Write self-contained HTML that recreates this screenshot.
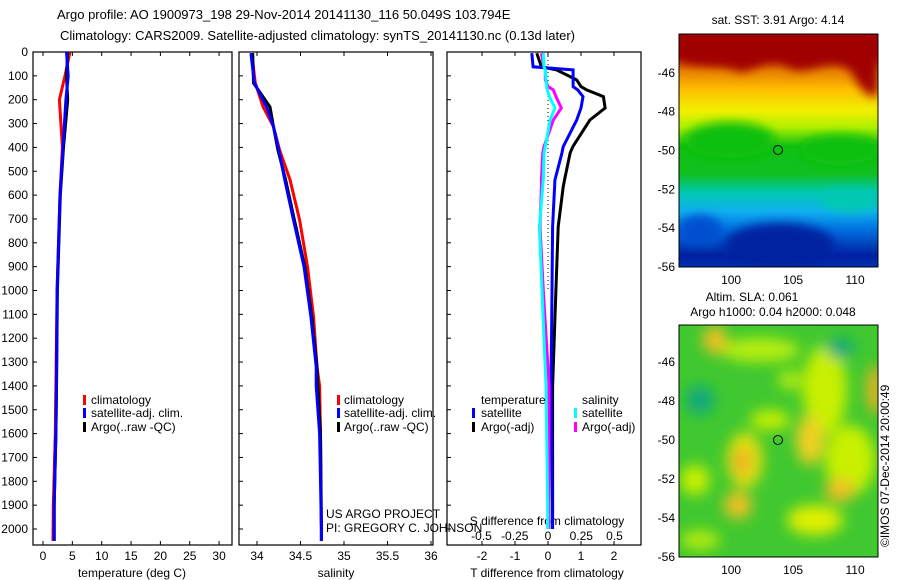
<!DOCTYPE html>
<html><head><meta charset="utf-8">
<style>
body{margin:0;background:#fff;}
svg{display:block;font-family:"Liberation Sans",sans-serif;}
text{font-size:12px;fill:#000;}
</style></head>
<body>
<svg id="c" width="900" height="580" viewBox="0 0 900 580">
<defs>
<linearGradient id="sst" x1="0" y1="0" x2="0" y2="1">
<stop offset="0" stop-color="#a00000"/><stop offset="0.09" stop-color="#a00000"/>
<stop offset="0.16" stop-color="#e88000"/><stop offset="0.24" stop-color="#ffc000"/>
<stop offset="0.33" stop-color="#f0f000"/><stop offset="0.40" stop-color="#b0f000"/>
<stop offset="0.48" stop-color="#10c010"/><stop offset="0.60" stop-color="#10c020"/>
<stop offset="0.68" stop-color="#00c8b0"/><stop offset="0.76" stop-color="#10b0f0"/>
<stop offset="0.84" stop-color="#0070e0"/><stop offset="0.95" stop-color="#0020a0"/>
<stop offset="1" stop-color="#0030b0"/></linearGradient>
<filter id="bl" x="-100%" y="-100%" width="300%" height="300%"><feGaussianBlur stdDeviation="5"/></filter>
<filter id="bl2" x="-100%" y="-100%" width="300%" height="300%"><feGaussianBlur stdDeviation="7"/></filter>
<clipPath id="m1c"><rect x="679" y="34" width="199" height="233"/></clipPath>
<clipPath id="m2c"><rect x="679" y="325" width="199" height="232"/></clipPath>
</defs>
<g id="titles">
<text x="57" y="19" style="font-size:13px">Argo profile: AO 1900973_198 29-Nov-2014 20141130_116 50.049S 103.794E</text>
<text x="60" y="40" style="font-size:13px">Climatology: CARS2009. Satellite-adjusted climatology: synTS_20141130.nc (0.13d later)</text>
</g>
<g id="axes"></g>
<g id="series"></g>
<g id="legends">
<rect x="83" y="395" width="3" height="10" fill="#f00"/>
<text x="91" y="404">climatology</text>
<rect x="83" y="408" width="3" height="10" fill="#00f"/>
<text x="91" y="417">satellite-adj. clim.</text>
<rect x="83" y="422" width="3" height="10" fill="#000"/>
<text x="91" y="431">Argo(..raw -QC)</text>
<rect x="337" y="395" width="3" height="10" fill="#f00"/>
<text x="344" y="404">climatology</text>
<rect x="337" y="408" width="3" height="10" fill="#00f"/>
<text x="344" y="417">satellite-adj. clim.</text>
<rect x="337" y="422" width="3" height="10" fill="#000"/>
<text x="344" y="431">Argo(..raw -QC)</text>
<text x="481" y="404">temperature</text>
<text x="582" y="404">salinity</text>
<rect x="472" y="408" width="3" height="10" fill="#00f"/>
<text x="481" y="417">satellite</text>
<rect x="472" y="422" width="3" height="10" fill="#000"/>
<text x="481" y="431">Argo(-adj)</text>
<rect x="574" y="408" width="3" height="10" fill="#0ff"/>
<text x="582" y="417">satellite</text>
<rect x="574" y="422" width="3" height="10" fill="#f0f"/>
<text x="582" y="431">Argo(-adj)</text>
<text x="326" y="518">US ARGO PROJECT</text>
<text x="326" y="532">PI: GREGORY C. JOHNSON</text>
</g>
<g id="map1">
<text x="778" y="24" text-anchor="middle">sat. SST: 3.91  Argo: 4.14</text>
<g clip-path="url(#m1c)">
<rect x="679" y="34" width="199" height="233" fill="url(#sst)"/>
<path d="M679,58 C700,70 720,60 740,72 C760,70 770,50 790,68 C810,78 830,50 850,70 C860,90 870,100 878,95 L878,34 L679,34Z" fill="#a00000" filter="url(#bl)"/>
<ellipse cx="730" cy="140" rx="45" ry="18" fill="#10c010" filter="url(#bl)"/>
<ellipse cx="840" cy="150" rx="40" ry="15" fill="#10c010" filter="url(#bl)"/>
<ellipse cx="780" cy="245" rx="55" ry="22" fill="#0020a0" filter="url(#bl)"/>
<ellipse cx="850" cy="200" rx="30" ry="12" fill="#00c8b0" filter="url(#bl)"/>
<ellipse cx="700" cy="230" rx="22" ry="15" fill="#0050d0" filter="url(#bl)"/>
</g>
<rect x="679" y="34" width="199" height="233" fill="none" stroke="#000" stroke-width="1"/>
<circle cx="778" cy="150" r="4.5" fill="none" stroke="#000"/>
</g>
<g id="map2">
<text x="752" y="301" text-anchor="middle">Altim. SLA: 0.061</text>
<text x="773" y="316" text-anchor="middle">Argo h1000: 0.04 h2000: 0.048</text>
<g clip-path="url(#m2c)">
<rect x="679" y="325" width="199" height="232" fill="#40c830"/>
<g filter="url(#bl2)">
<ellipse cx="760" cy="350" rx="40" ry="12" fill="#b8ee10"/>
<ellipse cx="715" cy="340" rx="12" ry="14" fill="#f0c020"/>
<ellipse cx="825" cy="390" rx="22" ry="45" fill="#c8f000"/>
<ellipse cx="850" cy="460" rx="25" ry="35" fill="#c8f000"/>
<ellipse cx="810" cy="440" rx="14" ry="25" fill="#f0d020"/>
<ellipse cx="745" cy="460" rx="18" ry="28" fill="#e0e010"/>
<ellipse cx="742" cy="462" rx="9" ry="14" fill="#f0b020"/>
<ellipse cx="875" cy="390" rx="8" ry="25" fill="#f0b020"/>
<ellipse cx="738" cy="505" rx="14" ry="14" fill="#f0c020"/>
<ellipse cx="815" cy="520" rx="28" ry="15" fill="#e0f000"/>
<ellipse cx="840" cy="490" rx="15" ry="12" fill="#f0c020"/>
<ellipse cx="700" cy="400" rx="14" ry="14" fill="#10a880"/>
<ellipse cx="840" cy="348" rx="14" ry="10" fill="#10a880"/>
<ellipse cx="770" cy="420" rx="20" ry="10" fill="#c8f000"/>
<ellipse cx="695" cy="480" rx="15" ry="15" fill="#c8f000"/>
<ellipse cx="700" cy="540" rx="20" ry="10" fill="#b0ea10"/>
<ellipse cx="790" cy="380" rx="12" ry="10" fill="#b0ea10"/>
</g></g>
<rect x="679" y="325" width="199" height="232" fill="none" stroke="#000" stroke-width="1"/>
<circle cx="778" cy="440" r="4.5" fill="none" stroke="#000"/>
<text transform="translate(889,547) rotate(-90)" style="font-size:12px">©IMOS 07-Dec-2014 20:00:49</text>
</g>
</svg>
<script>
// ---- data ----
const tDepth = [0,100,200,400,600,1000,1400,1600,1900,2050];
const tClim  = [4.6,3.75,2.8,3.3,2.9,2.4,2.2,2.1,1.75,1.7];
const tSat   = [4.0,4.3,3.9,3.4,2.9,2.4,2.3,2.2,1.9,1.9];
const tArgo  = [4.2,4.0,4.2,3.5,2.95,2.45,2.3,2.2,1.9,1.9];
const sDepth = [5,130,230,313,411,537,704,900,1110,1320,1400,1600,2000,2050];
const sClim  = [33.94,33.98,34.07,34.19,34.26,34.38,34.49,34.58,34.65,34.69,34.72,34.73,34.74,34.74];
const sSat   = [33.93,33.97,34.11,34.19,34.25,34.32,34.42,34.54,34.62,34.68,34.68,34.72,34.74,34.74];
const sArgo  = [33.95,33.96,34.15,34.19,34.24,34.33,34.43,34.55,34.63,34.69,34.70,34.73,34.74,34.74];
const dDepth = [5,62,75,117,145,159,187,235,285,397,424,537,565,732,1000,1400,1900,2000];
const dTSat  = [-0.49,-0.45,0.76,0.76,0.76,0.9,1.06,1.0,0.87,0.46,0.42,0.21,0.2,0.14,0.12,0.09,0.13,0.13];
const dTArgo = [-0.34,-0.2,0.26,0.87,1.0,1.17,1.68,1.73,1.27,0.75,0.67,0.5,0.46,0.31,0.24,0.14,0.14,0.14];
const dSSat  = [-0.035,-0.03,-0.02,-0.015,-0.01,-0.005,0.01,0.053,0.015,-0.02,-0.03,-0.035,-0.04,-0.065,-0.045,-0.015,-0.002,-0.002];
const dSArgo = [-0.05,-0.03,-0.02,-0.02,0.0,0.04,0.06,0.10,0.04,-0.03,-0.04,-0.05,-0.05,-0.06,-0.035,0.008,0.005,0.005];
const depthTicks = [0,100,200,300,400,500,600,700,800,900,1000,1100,1200,1300,1400,1500,1600,1700,1800,1900,2000];
const tTicks = [0,5,10,15,20,25,30];
const sTicks = ['34','34.5','35','35.5','36'];
const dTTicks = [-2,-1,0,1,2];
const dSTicks = ['-0.5','-0.25','0','0.25','0.5'];

const NS='http://www.w3.org/2000/svg';
const top0=52, bot=545;
const yD = d => 52 + 0.2385*d;
const xT = v => 43 + 5.87*v;
const xS = v => 257 + 87*(v-34);
const xDT = v => 548 + 33*v;
const xDS = v => 548 + 133*v;
const axes=document.getElementById('axes'), ser=document.getElementById('series');
function mk(tag,attrs,parent,txt){const e=document.createElementNS(NS,tag);for(const k in attrs)e.setAttribute(k,attrs[k]);if(txt!==undefined)e.textContent=txt;parent.appendChild(e);return e;}

const panels=[[33,232,'temperature-panel'],[239,433,'salinity-panel'],[447,641,'difference-panel']];
panels.forEach(p=>{
  const r=mk('rect',{x:p[0],y:top0,width:p[1]-p[0],height:bot-top0,fill:'none',stroke:'#000','stroke-width':1.2},axes);
  
  
  depthTicks.forEach(d=>{ if(yD(d)<bot) mk('line',{x1:p[0],x2:p[0]+4,y1:yD(d),y2:yD(d),stroke:'#000'},axes); });
});
depthTicks.forEach(d=>{
  const t=mk('text',{x:28,y:yD(d)+4,'text-anchor':'end'},axes,String(d));
  
  
});
function xticks(vals,fx,y,labY){vals.forEach(v=>{const x=fx(parseFloat(v));
  mk('line',{x1:x,x2:x,y1:top0,y2:top0+4,stroke:'#000'},axes);
  mk('line',{x1:x,x2:x,y1:bot,y2:bot-4,stroke:'#000'},axes);
  const t=mk('text',{x:x,y:labY,'text-anchor':'middle'},axes,String(v));
  
  });}
xticks(tTicks,xT,bot,560);
xticks(sTicks,xS,bot,560);
xticks(dTTicks,xDT,bot,560);
dSTicks.forEach(v=>{const t=mk('text',{x:xDS(parseFloat(v)),y:540,'text-anchor':'middle'},axes,v);
  
  });
[[132,'temperature (deg C)','temperature-axis-title'],[336,'salinity','salinity-axis-title'],[547,'T difference from climatology','t-diff-axis-title']].forEach(a=>{
  const t=mk('text',{x:a[0],y:577,'text-anchor':'middle'},axes,a[1]);
  
  });
const sdt=mk('text',{x:547,y:525,'text-anchor':'middle'},axes,'S difference from climatology');


mk('line',{x1:548,x2:548,y1:top0,y2:yD(1000),stroke:'#000','stroke-dasharray':'1,3'},axes);

function mapAxes(x0,x1,y0,y1,latTop,name){
  const lonX=v=>679+(v-95.8)*12.4, latY=v=>y1-(v+56)*((y1-y0)/(latTop+56));
  [100,105,110].forEach(v=>{const x=lonX(v);
    mk('line',{x1:x,x2:x,y1:y0,y2:y0+4,stroke:'#000'},axes);mk('line',{x1:x,x2:x,y1:y1,y2:y1-4,stroke:'#000'},axes);
    const t=mk('text',{x:x,y:y1+17,'text-anchor':'middle'},axes,String(v));
    
    });
  [-46,-48,-50,-52,-54,-56].forEach(v=>{const y=latY(v);
    mk('line',{x1:x0,x2:x0+4,y1:y,y2:y,stroke:'#000'},axes);mk('line',{x1:x1,x2:x1-4,y1:y,y2:y,stroke:'#000'},axes);
    const t=mk('text',{x:x0-4,y:y+4,'text-anchor':'end'},axes,String(v));
    
    });
}
window.addEventListener('load',()=>{
mapAxes(679,878,34,267,-44.0,'sst-map');
mapAxes(679,878,325,557,-44.1,'sla-map');
const svg=document.getElementById('c');svg.appendChild(document.getElementById('map1'));svg.appendChild(document.getElementById('map2'));
});

function line(depths,vals,fx,color,name,w){
  const pts=depths.map((d,i)=>fx(vals[i]).toFixed(1)+','+yD(d).toFixed(1)).join(' ');
  const pl=mk('polyline',{points:pts,fill:'none',stroke:color,'stroke-width':w||3,'stroke-linejoin':'miter'},ser);
  
  
}
line(tDepth,tClim,xT,'#f00','temperature-climatology-line');
line(tDepth,tArgo,xT,'#000','temperature-argo-line');
line(tDepth,tSat,xT,'#00f','temperature-satellite-line');
line(sDepth,sClim,xS,'#f00','salinity-climatology-line');
line(sDepth,sArgo,xS,'#000','salinity-argo-line');
line(sDepth,sSat,xS,'#00f','salinity-satellite-line');
line(dDepth,dTArgo,xDT,'#000','t-diff-argo-line');
line(dDepth,dTSat,xDT,'#00f','t-diff-satellite-line');
line(dDepth,dSArgo,xDS,'#f0f','s-diff-argo-line');
line(dDepth,dSSat,xDS,'#0ff','s-diff-satellite-line');
</script>
</body></html>
